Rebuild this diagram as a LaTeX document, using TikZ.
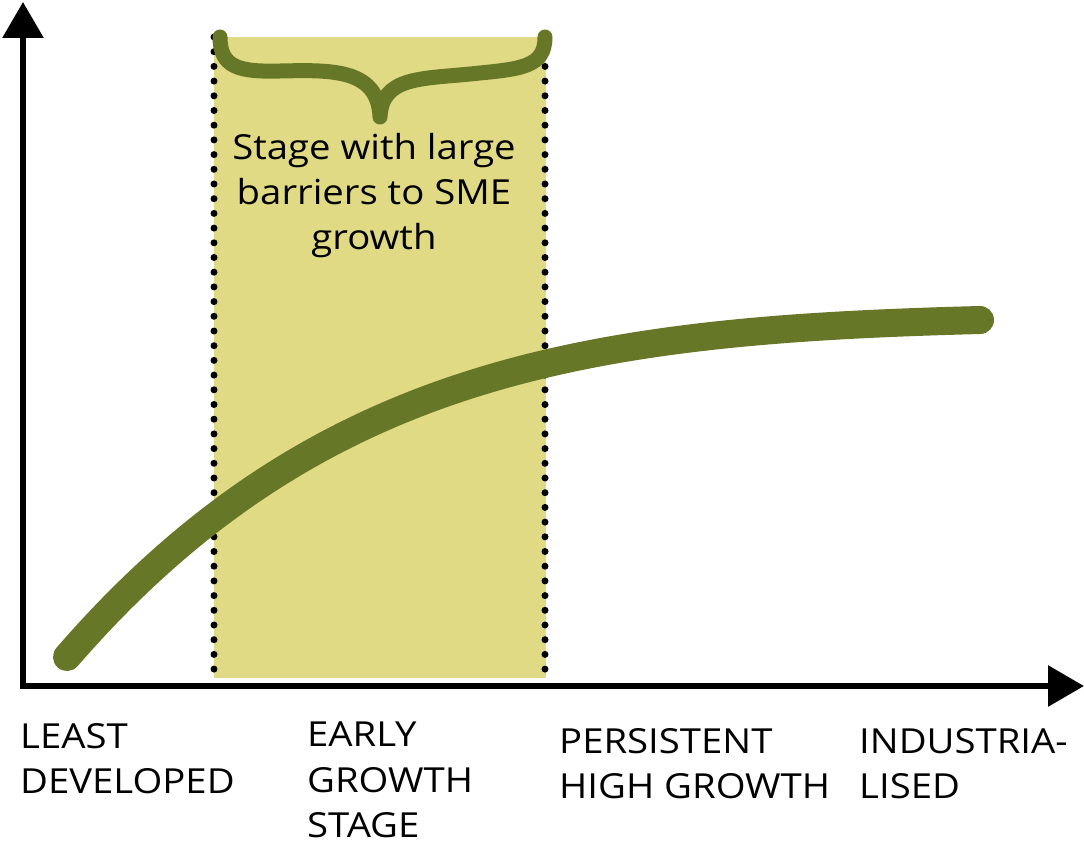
\documentclass[tikz,border=0pt]{standalone}
\usepackage{fontspec}
\setmainfont{Open Sans}[FakeStretch=1.11]
\usetikzlibrary{arrows.meta}
\definecolor{curveolive}{HTML}{667828}
\definecolor{bandyellow}{HTML}{E0DA84}
\tikzset{
  axisline/.style={line width=6pt, black},
  dotline/.style={line width=7pt, black, line cap=round, dash pattern=on 0pt off 14.7pt},
  growthcurve/.style={line width=28pt, curveolive, line cap=round},
  bracepath/.style={line width=15pt, curveolive, line cap=round, line join=round},
  stagelabel/.style={anchor=north west, inner sep=0pt, align=left, font=\fontsize{34.5}{45.5}\selectfont},
  bandlabel/.style={anchor=north, inner sep=0pt, align=center, font=\fontsize{34.5}{45}\selectfont},
}
\begin{document}
\begin{tikzpicture}[x=1pt,y=-1pt]
\useasboundingbox (0,0) rectangle (1084,842);
% band
\fill[bandyellow] (214,37) rectangle (546,678);
\coordinate (lt) at (214,37);
\coordinate (lb) at (214,678);
\coordinate (rt) at (545,37);
\coordinate (rb) at (545,678);
\draw[dotline] (lt) -- (lb);
\draw[dotline] (rt) -- (rb);
% axes
\coordinate (ytip) at (23,2);
\coordinate (origin) at (23,686);
\coordinate (xtip) at (1084,686);
\draw[axisline, {Triangle[length=36pt,width=40pt]}-{Triangle[length=36pt,width=40pt]}] (ytip) -- (origin) -- (xtip);
% growth curve
\coordinate (c0) at (67,657);
\coordinate (c1) at (980,320);
\draw[growthcurve] (c0) .. controls (320,365) and (600,330) .. (c1);
% brace
\coordinate (b0) at (220,37);
\coordinate (btip) at (380,117);
\coordinate (b1) at (545,37);
\draw[bracepath] (b0) .. controls (220,68) and (240,72) .. (280,71)
  .. controls (330,70) and (378,68) .. (btip)
  .. controls (382,77) and (420,79) .. (470,74)
  .. controls (520,69) and (545,68) .. (b1);
% texts
\node[bandlabel] (band) at (374,133) {Stage with large\\barriers to SME\\growth};
\node[stagelabel] (least) at (20,723) {LEAST\\DEVELOPED};
\node[stagelabel] (early) at (307,722) {EARLY\\GROWTH\\STAGE};
\node[stagelabel] (persist) at (559,728) {PERSISTENT\\HIGH GROWTH};
\node[stagelabel] (indus) at (859,728) {INDUSTRIA-\\LISED};
\end{tikzpicture}
\end{document}
